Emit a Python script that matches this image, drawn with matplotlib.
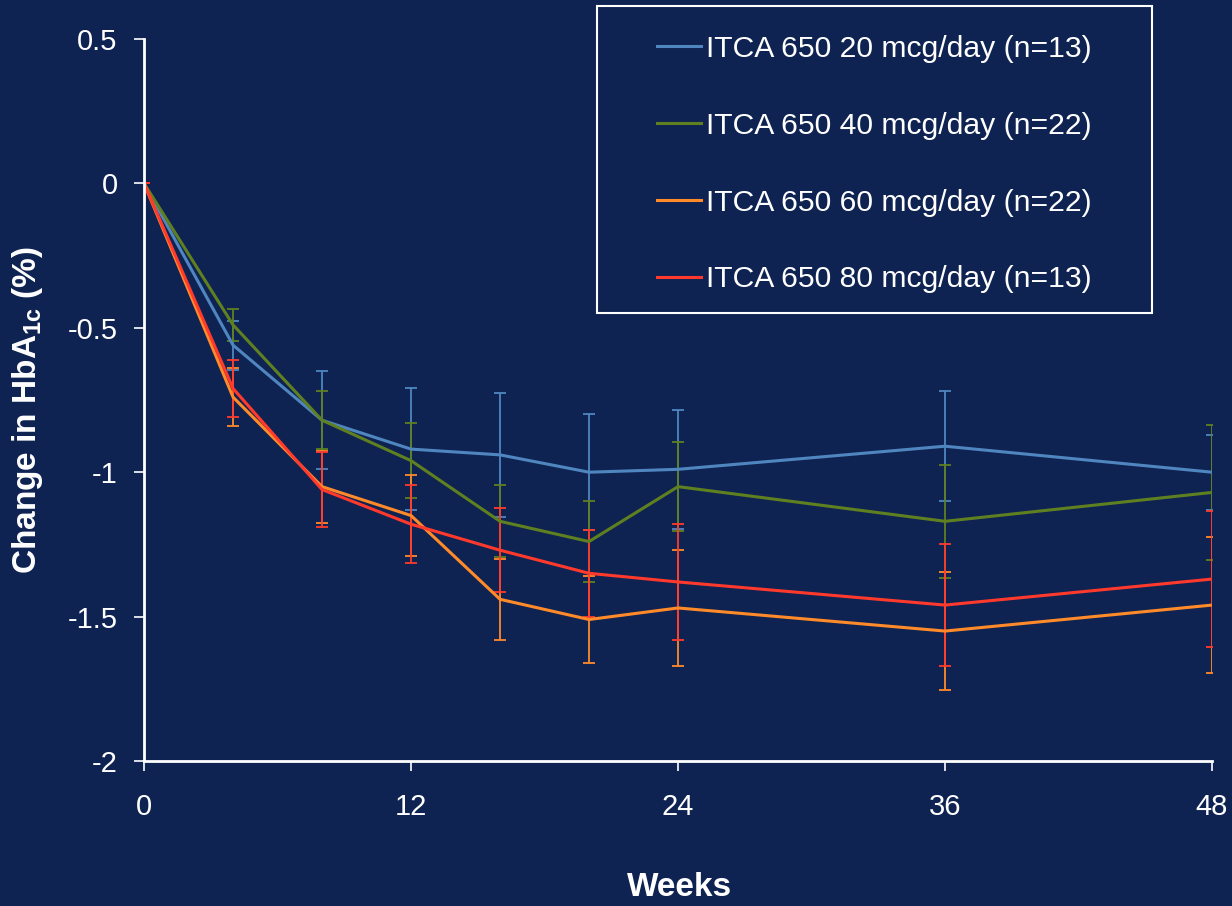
import numpy as np
import matplotlib.pyplot as plt
from matplotlib.patches import Rectangle

plt.rcParams['font.family'] = ['Liberation Sans', 'DejaVu Sans']
plt.rcParams['mathtext.fontset'] = 'custom'
plt.rcParams['mathtext.rm'] = 'Liberation Sans'
plt.rcParams['mathtext.bf'] = 'Liberation Sans:bold'

# Data
weeks = [0, 4, 8, 12, 16, 20, 24, 36, 48]

labels = ['ITCA 650 20 mcg/day (n=13)', 'ITCA 650 40 mcg/day (n=22)',
          'ITCA 650 60 mcg/day (n=22)', 'ITCA 650 80 mcg/day (n=13)']

mcg20 = [0, -0.56, -0.82, -0.92, -0.94, -1.00, -0.99, -0.91, -1.00]
mcg20_err = [0, 0.085, 0.17, 0.21, 0.215, 0.20, 0.205, 0.19, 0.13]

mcg40 = [0, -0.49, -0.82, -0.96, -1.17, -1.24, -1.05, -1.17, -1.07]
mcg40_err = [0, 0.055, 0.10, 0.13, 0.125, 0.14, 0.155, 0.195, 0.235]

mcg60 = [0, -0.74, -1.05, -1.15, -1.44, -1.51, -1.47, -1.55, -1.46]
mcg60_err = [0, 0.10, 0.125, 0.14, 0.14, 0.15, 0.20, 0.205, 0.235]

mcg80 = [0, -0.71, -1.06, -1.18, -1.27, -1.35, -1.38, -1.46, -1.37]
mcg80_err = [0, 0.10, 0.13, 0.135, 0.145, 0.15, 0.20, 0.21, 0.235]

series = [mcg20, mcg40, mcg60, mcg80]
errors = [mcg20_err, mcg40_err, mcg60_err, mcg80_err]
colors = ['#4F86C0', '#5F8020', '#FF8A2A', '#FF3A2C']

bg = '#0F2352'
W, H = 1232, 906

fig = plt.figure(figsize=(12.32, 9.06), dpi=100, facecolor=bg)
ax = fig.add_axes([0.1169, 0.16, 0.8669, 0.797], facecolor=bg)

for y, e, c, lab in zip(series, errors, colors, labels):
    ax.errorbar(weeks, y, yerr=e, color=c, lw=2.2, elinewidth=1.3,
                capsize=4, capthick=1.3, label=lab)

ax.set_xlim(0, 48)
ax.set_ylim(-2, 0.5)
ax.set_xticks([0, 12, 24, 36, 48])
ax.set_yticks([0.5, 0, -0.5, -1, -1.5, -2])
ax.set_yticklabels(['0.5', '0', '-0.5', '-1', '-1.5', '-2'])

for s in ['top', 'right']:
    ax.spines[s].set_visible(False)
for s in ['left', 'bottom']:
    ax.spines[s].set_color('white')
    ax.spines[s].set_linewidth(2)
ax.tick_params(colors='white', labelsize=21, length=7, width=1.2)
ax.tick_params(axis='x', pad=16)
ax.tick_params(axis='y', pad=12)

fig.text(28 / W, 1 - 410 / H, 'Change in HbA$_{\\mathbf{1c}}$ (%)', color='white',
         fontsize=24, fontweight='bold', rotation=90, ha='center', va='center')
fig.text(680 / W, 1 - 888 / H, 'Weeks', color='white', fontsize=24,
         fontweight='bold', ha='center', va='center')

# legend box drawn separately, legend itself without frame
fig.patches.append(Rectangle((597 / W, 1 - 313 / H), 555 / W, 307 / H,
                             transform=fig.transFigure, facecolor=bg,
                             edgecolor='white', lw=1.5, zorder=5))
handles, labs = ax.get_legend_handles_labels()
handles = [h[0] for h in handles]
leg = fig.legend(handles, labs, loc='upper left',
                 bbox_to_anchor=(657 / W, 1 - 35 / H),
                 fontsize=21.7, frameon=False,
                 handlelength=1.46, handletextpad=0.17,
                 labelspacing=1.62, borderpad=0, borderaxespad=0)
leg.set_zorder(6)
for t in leg.get_texts():
    t.set_color('white')

fig.savefig('out.png', dpi=100, facecolor=bg)
